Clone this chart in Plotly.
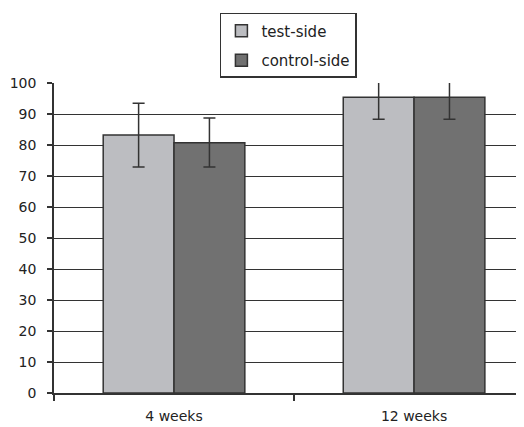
import plotly.graph_objects as go

categories = ["4 weeks", "12 weeks"]
series_names = ["test-side", "control-side"]
test_values = [83.2, 95.4]
control_values = [80.7, 95.4]
test_err = [10.3, 7.1]
control_err = [8.0, 7.1]
test_err_minus = [10.3, 7.1]
control_err_minus = [7.8, 7.1]
y_ticks = [0, 10, 20, 30, 40, 50, 60, 70, 80, 90, 100]

DARK = "#333333"
fig = go.Figure()
for name, vals, ep, em, col, grp in [
    (series_names[0], test_values, test_err, test_err_minus, "#bcbdc1", "a"),
    (series_names[1], control_values, control_err, control_err_minus, "#717171", "b"),
]:
    fig.add_trace(go.Bar(
        x=categories, y=vals, name=name, legendgroup=grp,
        marker=dict(color=col, line=dict(color=DARK, width=1.5)),
        error_y=dict(type="data", symmetric=False, array=ep, arrayminus=em,
                     color=DARK, thickness=1.5, width=6),
    ))

# page body has an 8px margin, so the figure is 8px smaller than the window
fig.update_layout(
    width=516, height=419,
    margin=dict(l=46, r=0, t=75, b=34, autoexpand=False),
    paper_bgcolor="white", plot_bgcolor="white",
    barmode="group", bargap=0.41, bargroupgap=0,
    font=dict(family="DejaVu Sans, Liberation Sans, sans-serif", size=14, color="#222222"),
    showlegend=True,
    legend=dict(x=0.353, y=1.226, xanchor="left", yanchor="top",
                bordercolor=DARK, borderwidth=1.5, bgcolor="white",
                tracegroupgap=7, font=dict(size=15)),
    xaxis=dict(range=[-0.5, 1.458], showline=True, linecolor=DARK, linewidth=1.5,
               ticks="outside", tickson="boundaries", ticklen=6, tickcolor=DARK,
               tickwidth=1.5, showgrid=False, ticklabelstandoff=9, automargin=False,
               tickfont=dict(size=14)),
    yaxis=dict(range=[0, 100], tickvals=y_ticks, showline=True, linecolor=DARK,
               linewidth=1.5, ticks="outside", ticklen=5, tickcolor=DARK, tickwidth=1.5,
               showgrid=True, gridcolor=DARK, gridwidth=1.2, zeroline=False,
               automargin=False, ticklabelstandoff=8, tickfont=dict(size=14)),
)

fig.write_html("out.html")
